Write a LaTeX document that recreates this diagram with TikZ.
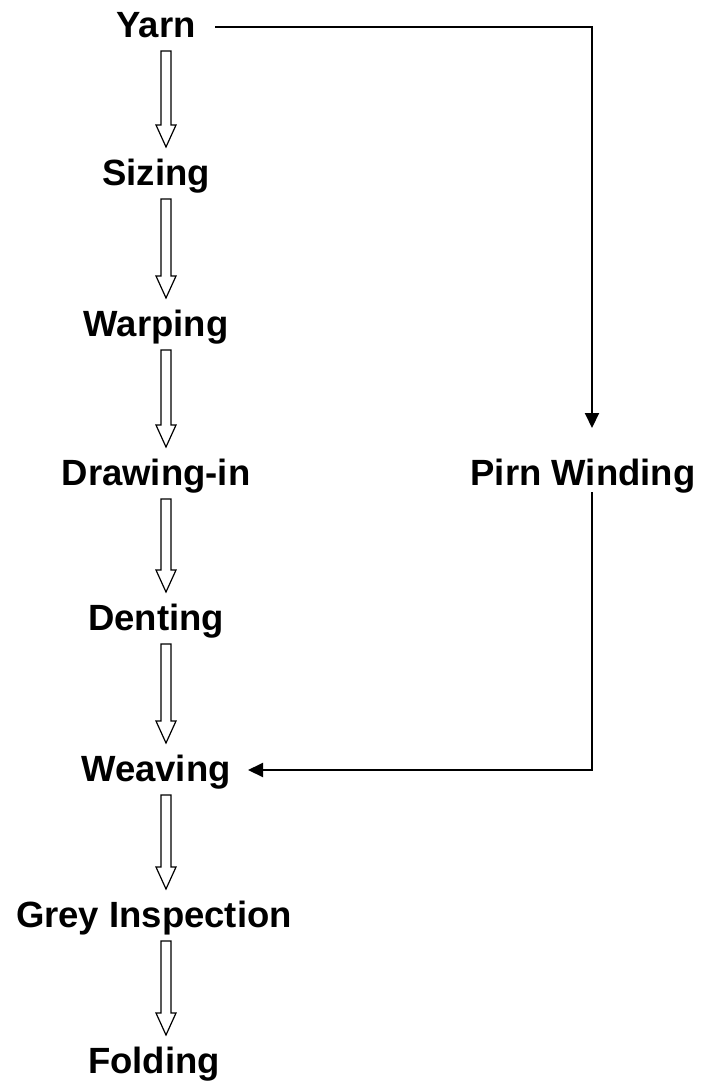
\documentclass[tikz,border=0pt]{standalone}
\usepackage{fontspec}
\setmainfont{Liberation Sans}
\usetikzlibrary{arrows.meta,calc}
\newcommand{\hollowarrow}[2]{%
  \draw[hollow] let \p1=(#1.base), \p2=(#2.base) in
    (161,\y1-14) -- (171,\y1-14) -- (171,\y2+60) -- (176,\y2+60)
    -- (166,\y2+38) -- (156,\y2+60) -- (161,\y2+60) -- cycle;}

\begin{document}
\begin{tikzpicture}[x=1pt, y=1pt,
  stage/.style={anchor=base, inner sep=0pt, font=\fontsize{36.5}{44}\selectfont\bfseries},
  hollow/.style={draw=black, line width=1.2pt, fill=white, line join=miter},
  feed/.style={line width=2pt, -{Triangle[length=15pt, width=14pt]}}]
\useasboundingbox (0,0) rectangle (709,-1084);

% Main process column
\node[stage] (yarn)    at (156,-37)   {Yarn};
\node[stage] (sizing)  at (156,-185)  {Sizing};
\node[stage] (warping) at (156,-336)  {Warping};
\node[stage] (drawing) at (156,-485)  {Drawing-in};
\node[stage] (denting) at (156,-630)  {Denting};
\node[stage] (weaving) at (156,-781)  {Weaving};
\node[stage] (grey)    at (154,-927)  {Grey Inspection};
\node[stage] (folding) at (154,-1073) {Folding};

% Weft side branch
\node[stage] (pirn) at (583,-485) {Pirn Winding};

% Hollow arrows between stages
\foreach \a/\b in {yarn/sizing, sizing/warping, warping/drawing, drawing/denting,
                   denting/weaving, weaving/grey, grey/folding}
  \hollowarrow{\a}{\b};

% Yarn to pirn winding, then back to weaving
\coordinate (yarnout)   at (215,-27);
\coordinate (yarnturn)  at (592,-27);
\coordinate (pirnin)    at (592,-428);
\coordinate (pirnout)   at (592,-492);
\coordinate (pirnturn)  at (592,-770);
\coordinate (weavein)   at (248,-770);
\draw[feed] (yarnout) -- (yarnturn) -- (pirnin);
\draw[feed] (pirnout) -- (pirnturn) -- (weavein);
\end{tikzpicture}
\end{document}
